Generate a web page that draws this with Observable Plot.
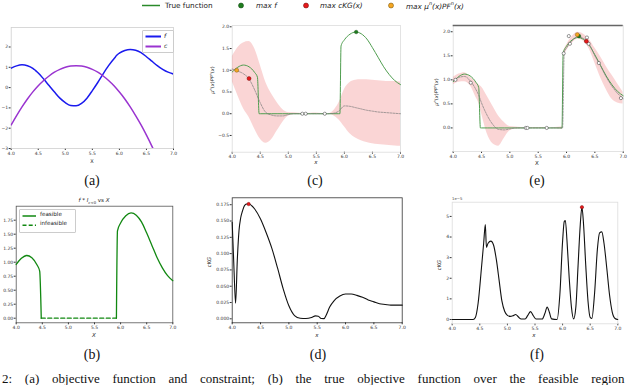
<!DOCTYPE html>
<html><head><meta charset="utf-8">
<script src="https://cdn.jsdelivr.net/npm/d3@7"></script>
<script src="https://cdn.jsdelivr.net/npm/@observablehq/plot@0.6"></script>
<style>
html,body{margin:0;padding:0;background:#fff;}
#root{position:relative;width:640px;height:385px;overflow:hidden;font-family:"DejaVu Sans",sans-serif;}
.abs{position:absolute;}
svg{position:absolute;overflow:visible;}
</style></head><body><div id="root"></div>
<script>
// ---------- data ----------
const xTicks = [4.0, 4.5, 5.0, 5.5, 6.0, 6.5, 7.0];
const aYTicks = [-3, -2, -1, 0, 1, 2];
const cYTicks = [-0.5, 0, 0.5, 1, 1.5, 2];
const eYTicks = [0, 0.5, 1, 1.5, 2];
const bYTicks = [0, 0.25, 0.5, 0.75, 1, 1.25, 1.5, 1.75];
const dYTicks = [0, 0.025, 0.05, 0.075, 0.1, 0.125, 0.15, 0.175];
const fYTicks = [0, 1, 2, 3, 4, 5];

// objective f
const fX = [4.0,4.1,4.2,4.3,4.4,4.45,4.48,4.5,4.6,4.7,4.8,4.9,5.0,5.1,5.2,5.3,5.4,5.5,5.6,5.7,5.8,5.9,5.92,5.94,6.0,6.1,6.2,6.3,6.4,6.5,6.6,6.7,6.8,6.9,7.0];
const fY = [0.96,1.07,1.12,1.08,0.95,0.84,0.77,0.72,0.42,0.10,-0.22,-0.52,-0.74,-0.88,-0.90,-0.78,-0.52,-0.15,0.25,0.68,1.08,1.42,1.48,1.56,1.70,1.83,1.88,1.84,1.72,1.52,1.30,1.08,0.90,0.76,0.67];
// constraint c
const cX = [4.0,4.1,4.2,4.3,4.4,4.5,4.6,4.7,4.8,4.9,5.0,5.1,5.2,5.3,5.4,5.5,5.6,5.7,5.8,5.9,6.0,6.1,6.2,6.3,6.4,6.5,6.6,6.7];
const cY = [-1.84,-1.38,-0.95,-0.56,-0.21,0.09,0.35,0.57,0.76,0.90,1.00,1.06,1.08,1.06,1.00,0.90,0.76,0.57,0.35,0.09,-0.22,-0.56,-0.95,-1.38,-1.84,-2.34,-2.88,-3.47];
// infeasible interval (c >= 0)
const infeasibleFrom = 4.47, infeasibleTo = 5.93;

// posterior (c)
const cPostX = [4.0,4.1,4.2,4.3,4.4,4.5,4.6,4.7,4.8,4.9,5.0,5.1,5.2,5.3,5.4,5.5,5.6,5.7,5.8,5.9,6.0,6.1,6.2,6.3,6.4,6.5,6.6,6.7,6.8,6.9,7.0];
const cMu = [1.03,0.98,0.92,0.80,0.55,0.25,0.03,-0.03,-0.05,-0.05,-0.02,0,0,0,0,0,0,0,0.01,0.06,0.18,0.17,0.14,0.11,0.08,0.06,0.04,0.03,0.02,0.01,0.0];
const cLo = [0.74,0.42,0.12,-0.08,-0.35,-0.58,-0.68,-0.60,-0.40,-0.20,-0.06,-0.02,-0.01,0,-0.01,-0.015,-0.005,0,-0.04,-0.14,-0.30,-0.46,-0.56,-0.62,-0.66,-0.69,-0.71,-0.72,-0.73,-0.74,-0.75];
const cHi = [1.31,1.52,1.63,1.66,1.50,1.12,0.72,0.46,0.26,0.10,0.03,0.02,0.01,0,0.01,0.015,0.005,0,0.06,0.24,0.56,0.72,0.77,0.78,0.78,0.77,0.76,0.75,0.74,0.74,0.73];
const cObsX = [5.25, 5.31, 5.65];
const cObsY = [0, 0, 0];
const cMaxF = [6.21, 1.88], cMaxKG = [4.30, 0.81], cMaxMuPF = [4.08, 1.0];

// posterior (e)
const ePostX = [4.0,4.1,4.2,4.3,4.4,4.45,4.5,4.6,4.7,4.8,4.9,5.0,5.1,5.2,5.3,5.4,5.5,5.6,5.7,5.8,5.9,5.93,5.96,6.0,6.1,6.2,6.3,6.4,6.5,6.6,6.7,6.8,6.9,7.0];
const eMu = [0.98,1.05,1.07,0.98,0.80,0.68,0.52,0.26,0.07,-0.03,-0.04,-0.02,0,0,0,0,0,0,0,0,0,0,1.58,1.66,1.82,1.90,1.86,1.74,1.50,1.29,1.06,0.87,0.72,0.61];
const eLo = [0.90,0.95,0.96,0.88,0.64,0.52,0.30,-0.12,-0.33,-0.38,-0.22,-0.06,-0.02,-0.01,0,-0.01,-0.01,-0.01,0,-0.01,-0.02,-0.03,1.50,1.60,1.76,1.85,1.80,1.64,1.35,1.05,0.80,0.60,0.52,0.50];
const eHi = [1.05,1.12,1.15,1.06,0.95,0.90,0.85,0.66,0.45,0.25,0.12,0.03,0.02,0.01,0,0.01,0.01,0.01,0,0.01,0.02,0.03,1.62,1.72,1.90,1.99,1.95,1.84,1.66,1.48,1.28,1.10,0.92,0.74];
const eObsX = [4.04,4.31,5.28,5.31,5.65,5.95,6.04,6.06,6.36,6.39,6.57,6.96];
const eObsY = [1.0,0.94,0,0,0,1.55,1.91,1.75,1.88,1.75,1.35,0.62];
const eMaxF = [6.22, 1.91], eMaxKG = [6.35, 1.80], eMaxMuPF = [6.19, 1.94];

// cKG (d)
const dX = [4.00,4.03,4.06,4.09,4.12,4.15,4.18,4.22,4.26,4.30,4.35,4.40,4.50,4.60,4.70,4.80,4.90,5.00,5.10,5.20,5.30,5.40,5.47,5.52,5.57,5.62,5.66,5.72,5.80,5.90,6.00,6.10,6.20,6.30,6.40,6.50,6.60,6.70,6.80,6.90,7.00];
const dY = [0.148,0.080,0.024,0.090,0.135,0.155,0.165,0.174,0.176,0.176,0.173,0.168,0.153,0.132,0.108,0.078,0.046,0.020,0.005,0.0008,0.0004,0.002,0.0045,0.004,0.0005,0.0003,0.006,0.018,0.028,0.035,0.038,0.038,0.036,0.033,0.029,0.026,0.023,0.022,0.021,0.021,0.021];
const dMax = [4.29, 0.176];

// cKG (f), units of 1e-5
const gX = [4.00,4.38,4.42,4.47,4.53,4.57,4.60,4.62,4.65,4.70,4.75,4.80,4.85,4.90,4.95,5.00,5.05,5.10,5.15,5.20,5.25,5.32,5.37,5.42,5.47,5.52,5.63,5.68,5.72,5.76,5.80,5.90,5.95,6.00,6.03,6.05,6.08,6.12,6.16,6.20,6.24,6.28,6.32,6.35,6.38,6.42,6.46,6.50,6.53,6.58,6.63,6.67,6.71,6.75,6.80,6.85,6.90,6.95,7.00];
const gY = [0,0,0.1,0.8,2.5,3.7,4.6,3.5,3.7,3.8,3.6,2.9,1.9,0.9,0.4,0.2,0.15,0.18,0.24,0.12,0.02,0.02,0.2,0.38,0.18,0.02,0.02,0.3,0.6,0.35,0.03,0.0,1.2,3.8,4.75,4.8,3.8,2.0,0.6,0.03,0.6,2.6,4.6,5.45,4.6,2.6,0.9,0.1,0.05,1.3,3.4,4.2,4.25,3.7,2.5,1.2,0.35,0.05,0.0];
const gMax = [6.35, 5.45];

// ---------- helpers ----------
const root = document.getElementById("root");
const GREEN_TRUE = "#4f9e4f", PINK = "#f08080", MEAN = "#7a7a7a";
function txt(s, x, y, o = {}) {
  const d = document.createElement("div");
  d.className = "abs";
  d.innerHTML = s;
  const ax = o.ax ?? -50;
  Object.assign(d.style, {
    left: x + "px", top: y + "px", fontSize: (o.size || 6) + "px",
    fontFamily: o.family || '"DejaVu Sans", sans-serif',
    fontStyle: o.italic ? "italic" : "normal", color: o.color || "#222",
    whiteSpace: "nowrap", lineHeight: "1",
    transform: `translate(${ax}%, -50%)` + (o.rot ? ` rotate(${o.rot}deg)` : "")
  });
  root.append(d);
  return d;
}
const minus = s => s.replace("-", "\u2212");
function panel(box, frame, yDomain, yTicks, yFmt, marks, frameColor) {
  const [bx0, by0, bx1, by1] = box, [fx0, fy0, fx1, fy1] = frame;
  const p = Plot.plot({
    width: bx1 - bx0, height: by1 - by0,
    marginLeft: fx0 - bx0, marginRight: bx1 - fx1, marginTop: fy0 - by0, marginBottom: by1 - fy1,
    x: {domain: [4, 7], ticks: xTicks, tickFormat: d => d.toFixed(1), tickSize: 2, tickPadding: 1, label: null},
    y: {domain: yDomain, ticks: yTicks, tickFormat: d => minus(yFmt(d)), tickSize: 2, tickPadding: 1, label: null},
    style: {fontSize: "4.5px", fontFamily: "DejaVu Sans", color: "#333", background: "none", overflow: "visible"},
    marks: [Plot.frame({stroke: frameColor, strokeWidth: 0.8}), ...marks]
  });
  p.style.left = bx0 + "px"; p.style.top = by0 + "px";
  root.append(p);
}
const rows = (xs, ys) => xs.map((x, i) => ({x, y: ys[i]}));
const trueRows = fX.map((x, i) => ({x, y: (x < infeasibleFrom || x > infeasibleTo) ? fY[i] : 0}));
const pt = a => [{x: a[0], y: a[1]}];
function markerDots(maxF, maxKG, maxMu) {
  return [
    Plot.dot(pt(maxF), {x: "x", y: "y", r: 1.8, fill: "#1e7d1e", stroke: "#0b3d0b", strokeWidth: 0.4}),
    Plot.dot(pt(maxKG), {x: "x", y: "y", r: 2, fill: "#e41a1c", stroke: "#6a0000", strokeWidth: 0.4}),
    Plot.dot(pt(maxMu), {x: "x", y: "y", r: 2, fill: "#f5a623", stroke: "#6b4a00", strokeWidth: 0.4})
  ];
}

// ---------- top legend ----------
const leg = document.createElement("div");
leg.className = "abs";
leg.style.left = "0px"; leg.style.top = "0px";
leg.innerHTML = `<svg width="640" height="12" style="position:absolute;left:0;top:0">
<line x1="142" x2="160" y1="5.5" y2="5.5" stroke="#2a8a2a" stroke-width="1.5"/>
<circle cx="241" cy="5.5" r="2.5" fill="#1e7d1e" stroke="#0b3d0b" stroke-width="0.5"/>
<circle cx="306" cy="5.5" r="2.5" fill="#e41a1c" stroke="#6a0000" stroke-width="0.5"/>
<circle cx="391" cy="5.5" r="2.5" fill="#f5a623" stroke="#6b4a00" stroke-width="0.5"/></svg>`;
root.append(leg);
txt("True function", 165, 5.5, {size: 7.3, ax: 0});
txt("max <i>f</i>", 256, 5.5, {size: 7.3, ax: 0, italic: true});
txt("max <i>cKG</i>(<i>x</i>)", 320, 5.5, {size: 7.3, ax: 0, italic: true});
txt("max <i>μ<sup style='font-size:5px'>n</sup></i>(<i>x</i>)<i>PF<sup style='font-size:5px'>n</sup></i>(<i>x</i>)", 406, 5.5, {size: 7.3, ax: 0, italic: true});

// ---------- (a) ----------
panel([0, 15, 205, 172], [10.7, 27, 173, 148], [-3, 2.96], aYTicks, d => d.toFixed(0), [
  Plot.line(rows(fX, fY), {x: "x", y: "y", stroke: "#1a1aee", strokeWidth: 1.5, curve: "monotone-x", clip: true}),
  Plot.line(rows(cX, cY), {x: "x", y: "y", stroke: "#9a34d0", strokeWidth: 1.5, curve: "monotone-x", clip: true})
], "#cfcfcf");
const legA = document.createElement("div");
legA.className = "abs";
Object.assign(legA.style, {left: "141.5px", top: "30px", width: "30px", height: "21px", background: "rgba(255,255,255,0.85)", border: "0.6px solid #ccc", borderRadius: "1px"});
legA.innerHTML = `<svg width="30" height="21" style="left:0;top:0"><line x1="2.5" x2="18" y1="5.5" y2="5.5" stroke="#1a1aee" stroke-width="2"/><line x1="2.5" x2="18" y1="15.5" y2="15.5" stroke="#9a34d0" stroke-width="2"/></svg>`;
root.append(legA);
txt("<i>f</i>", 164, 35.5, {size: 6, ax: 0});
txt("<i>c</i>", 164, 45.5, {size: 6, ax: 0});
txt("X", 92, 160.5, {size: 5});

// ---------- (c) ----------
const cPost = cPostX.map((x, i) => ({x, mu: cMu[i], lo: cLo[i], hi: cHi[i]}));
panel([200, 15, 420, 172], [231.7, 25, 400, 151.7], [-0.885, 2.03], cYTicks, d => d.toFixed(1), [
  Plot.areaY(cPost, {x: "x", y1: "lo", y2: "hi", fill: PINK, fillOpacity: 0.33, curve: "monotone-x", clip: true}),
  Plot.line(trueRows, {x: "x", y: "y", stroke: GREEN_TRUE, strokeWidth: 1, curve: "monotone-x"}),
  Plot.line(cPost, {x: "x", y: "mu", stroke: MEAN, strokeWidth: 0.7, strokeDasharray: "1.8,1.2", curve: "monotone-x"}),
  Plot.dot(rows(cObsX, cObsY), {x: "x", y: "y", r: 1.6, fill: "white", stroke: "#333", strokeWidth: 0.5}),
  ...markerDots(cMaxF, cMaxKG, cMaxMuPF)
], "#dddddd");
txt("<i>μ<sup style='font-size:3.5px'>n</sup></i>(<i>x</i>)<i>PF<sup style='font-size:3.5px'>n</sup></i>(<i>x</i>)", 212, 80, {size: 5, rot: -90});
txt("<i>x</i>", 316, 163, {size: 5.5});

// ---------- (e) ----------
const ePost = ePostX.map((x, i) => ({x, mu: eMu[i], lo: eLo[i], hi: eHi[i]}));
panel([420, 15, 640, 172], [452.7, 25, 622.7, 151], [-0.49, 2.13], eYTicks, d => d.toFixed(1), [
  Plot.areaY(ePost, {x: "x", y1: "lo", y2: "hi", fill: PINK, fillOpacity: 0.33, curve: "monotone-x", clip: true}),
  Plot.line(trueRows, {x: "x", y: "y", stroke: GREEN_TRUE, strokeWidth: 1, curve: "monotone-x"}),
  Plot.line(ePost, {x: "x", y: "mu", stroke: MEAN, strokeWidth: 0.7, strokeDasharray: "1.8,1.2", curve: "monotone-x"}),
  Plot.dot(rows(eObsX, eObsY), {x: "x", y: "y", r: 1.6, fill: "white", stroke: "#333", strokeWidth: 0.5}),
  ...markerDots(eMaxF, eMaxKG, eMaxMuPF),
  Plot.ruleY([2.13], {stroke: "#666", strokeWidth: 1.6})
], "#dddddd");
txt("<i>μ<sup style='font-size:3.5px'>n</sup></i>(<i>x</i>)<i>PF<sup style='font-size:3.5px'>n</sup></i>(<i>x</i>)", 436, 92, {size: 5, rot: -90});
txt("X", 537, 163.5, {size: 5.5});

// ---------- (b) ----------
const leftSeg = trueRows.filter(d => d.x <= 4.48);
const rightSeg = trueRows.filter(d => d.x >= 5.92);
const midSeg = trueRows.filter(d => d.x >= 4.48 && d.x <= 5.92);
panel([0, 192, 205, 345], [15.7, 205.7, 172.3, 322.3], [-0.082, 2.0], bYTicks, d => d.toFixed(2), [
  Plot.line(leftSeg, {x: "x", y: "y", stroke: "#118811", strokeWidth: 1.3, curve: "monotone-x"}),
  Plot.line(rightSeg, {x: "x", y: "y", stroke: "#118811", strokeWidth: 1.3, curve: "monotone-x"}),
  Plot.line(midSeg, {x: "x", y: "y", stroke: "#118811", strokeWidth: 1.3, strokeDasharray: "4,2.5"})
], "#555555");
txt("<i>f</i> * <i>I</i><sub style='font-size:3.8px'><i>c</i>&lt;0</sub> vs <i>X</i>", 94, 201, {size: 5.5});
const legB = document.createElement("div");
legB.className = "abs";
Object.assign(legB.style, {left: "19px", top: "209px", width: "55px", height: "22px", background: "rgba(255,255,255,0.9)", border: "0.6px solid #ccc", borderRadius: "1px"});
legB.innerHTML = `<svg width="55" height="22" style="left:0;top:0"><line x1="2.5" x2="16" y1="6" y2="6" stroke="#118811" stroke-width="1.5"/><line x1="2.5" x2="16" y1="15.3" y2="15.3" stroke="#118811" stroke-width="1.5" stroke-dasharray="4,2.2"/></svg>`;
root.append(legB);
txt("feasible", 40, 215, {size: 5.6, ax: 0});
txt("infeasible", 40, 224.3, {size: 5.6, ax: 0});
txt("<i>X</i>", 94, 335.5, {size: 5.5});

// ---------- (d) ----------
panel([205, 192, 425, 345], [231.7, 197.3, 401.7, 322.3], [-0.0061, 0.1856], dYTicks, d => d.toFixed(3), [
  Plot.line(rows(dX, dY), {x: "x", y: "y", stroke: "#111", strokeWidth: 1.1, curve: "monotone-x"}),
  Plot.dot(pt(dMax), {x: "x", y: "y", r: 1.7, fill: "#e41a1c", stroke: "#6a0000", strokeWidth: 0.4})
], "#333333");
txt("<i>cKG</i>", 210, 262, {size: 5.2, rot: -90});
txt("<i>x</i>", 317, 336, {size: 5.5});

// ---------- (f) ----------
panel([425, 192, 640, 345], [451.7, 201.7, 617.3, 323.3], [-0.21, 5.69], fYTicks, d => d.toFixed(0), [
  Plot.line(rows(gX, gY), {x: "x", y: "y", stroke: "#111", strokeWidth: 1.1, curve: "monotone-x"}),
  Plot.dot(pt(gMax), {x: "x", y: "y", r: 1.7, fill: "#e41a1c", stroke: "#6a0000", strokeWidth: 0.4})
], "#dddddd");
txt("1e\u22125", 452, 199, {size: 3.8, ax: 0, color: "#444"});
txt("<i>cKG</i>", 440, 265, {size: 5.2, rot: -90});
txt("<i>x</i>", 534, 336, {size: 5.5});

// ---------- panel captions ----------
const serif = '"Liberation Serif", "Times New Roman", serif';
txt("(a)", 92, 181, {size: 14, family: serif, color: "#111"});
txt("(c)", 315, 181, {size: 14, family: serif, color: "#111"});
txt("(e)", 537, 181, {size: 14, family: serif, color: "#111"});
txt("(b)", 92, 355, {size: 14, family: serif, color: "#111"});
txt("(d)", 318, 355, {size: 14, family: serif, color: "#111"});
txt("(f)", 537, 355, {size: 14, family: serif, color: "#111"});
const bottom = txt("2: (a) objective function and constraint; (b) the true objective function over the feasible region", 2, 377.5, {size: 13, family: serif, color: "#111", ax: 0});
bottom.style.wordSpacing = "9.5px";
</script></body></html>
